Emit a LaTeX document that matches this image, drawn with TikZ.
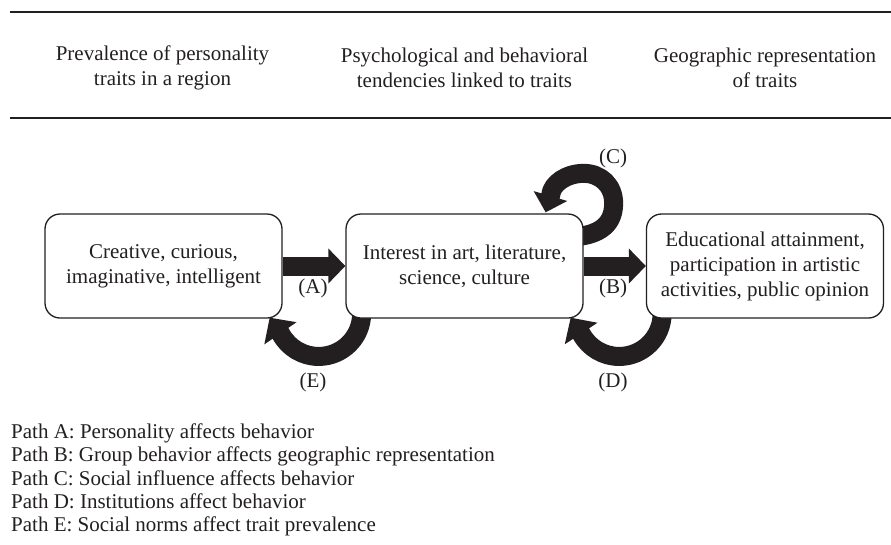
\documentclass[tikz,border=0pt]{standalone}
\usepackage{fontspec}
\setmainfont{Liberation Serif}
\usetikzlibrary{arrows.meta,calc,backgrounds}
\definecolor{ink}{HTML}{231F20}
\begin{document}
\begin{tikzpicture}[x=1pt,y=-1pt,
  txt/.style={font=\fontsize{21}{25}\selectfont, text=ink, align=center, inner sep=0pt},
  box/.style={txt, draw=ink, line width=1.3pt, rounded corners=15pt, fill=white,
              minimum width=237pt, minimum height=104pt},
  fat/.style={draw=ink, line width=19pt, line join=round, -{Triangle[width=34pt,length=17pt]}},
  curved/.style={draw=ink, line width=19pt, line join=round, -{Triangle[width=38pt,length=19pt]}},
  rule/.style={draw=ink, line width=1.5pt},
  note/.style={font=\fontsize{21}{23}\selectfont, text=ink, anchor=base west, inner sep=0pt}]
\useasboundingbox (0,0) rectangle (891,544);

% rules
\coordinate (r1a) at (10,12);  \coordinate (r1b) at (891,12);
\coordinate (r2a) at (10,118); \coordinate (r2b) at (891,118);
\draw[rule] (r1a) -- (r1b);
\draw[rule] (r2a) -- (r2b);

% headers
\node[txt] (h1) at (162.5,67.5) {Prevalence of personality\\traits in a region};
\node[txt] (h2) at (464.5,67.5) {Psychological and behavioral\\tendencies linked to traits};
\node[txt] (h3) at (765,67.5) {Geographic representation\\of traits};

% boxes
\node[box] (b1) at (163.5,266) {Creative, curious,\\imaginative, intelligent};
\node[box] (b2) at (464.5,266) {Interest in art, literature,\\science, culture};
\node[box] (b3) at (765,266) {Educational attainment,\\participation in artistic\\activities, public opinion};

% labels
\node[txt] (la) at (313,288) {(A)};
\node[txt] (lb) at (613,288) {(B)};
\node[txt] (lc) at (613,158) {(C)};
\node[txt] (ld) at (613,382) {(D)};
\node[txt] (le) at (313,382) {(E)};

% arrows
\begin{pgfonlayer}{background}
\draw[fat] (b1.east) -- (b2.west);
\draw[fat] (b2.east) -- (b3.west);
\coordinate (eC) at ($(b2.south west)+(-26.7,-5.2)$);
\draw[curved] ($(eC)+(0:43)$) arc[start angle=0,end angle=152,radius=43]
   -- ($(b1.south east)+(-13,-1)$);
\coordinate (dC) at ($(b3.south west)+(-26.7,-5.2)$);
\draw[curved] ($(dC)+(0:43)$) arc[start angle=0,end angle=152,radius=43]
   -- ($(b2.south east)+(-13,-1)$);
\begin{scope}[shift={(b2.north east)}]
\draw[fat] (-20,24) .. controls (12,24) and (30,14) .. (30,-10)
   .. controls (30,-28) and (17,-40) .. (0,-40)
   .. controls (-17,-40) and (-32,-30) .. (-33,-18) -- (-38,-1);
\end{scope}
\end{pgfonlayer}

% notes
\node[note] (n1) at (11,438) {Path A: Personality affects behavior};
\node[note] (n2) at (11,461.5) {Path B: Group behavior affects geographic representation};
\node[note] (n3) at (11,485) {Path C: Social influence affects behavior};
\node[note] (n4) at (11,508) {Path D: Institutions affect behavior};
\node[note] (n5) at (11,531) {Path E: Social norms affect trait prevalence};
\end{tikzpicture}
\end{document}
